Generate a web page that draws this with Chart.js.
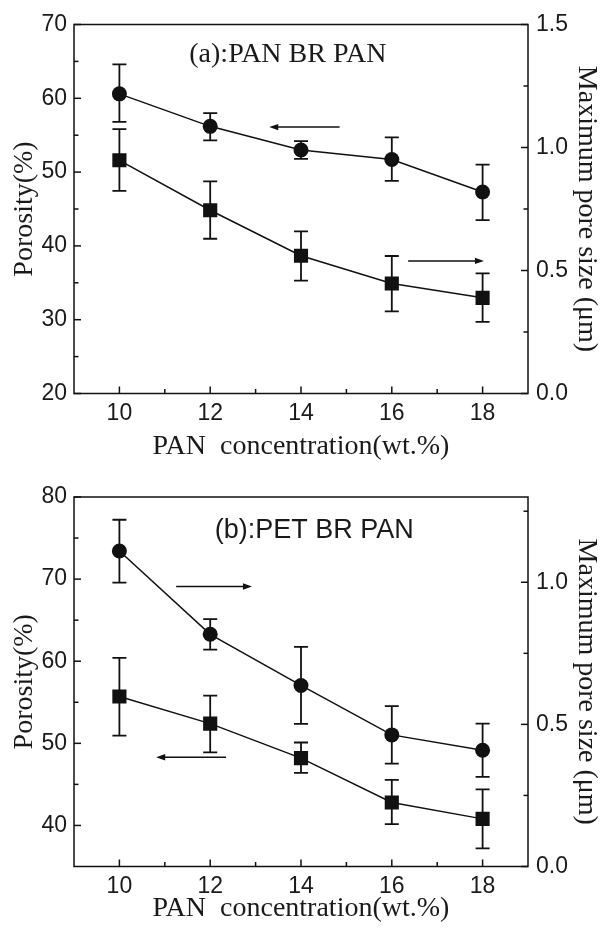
<!DOCTYPE html>
<html>
<head>
<meta charset="utf-8">
<script src="https://cdn.jsdelivr.net/npm/chart.js@4.4.1/dist/chart.umd.min.js"></script>
<style>
html, body { margin: 0; padding: 0; background: #fff; }
.panel { position: relative; width: 603px; height: 466px; }
</style>
</head>
<body>
<div class="panel"><canvas id="chartA"></canvas></div>
<div class="panel"><canvas id="chartB"></canvas></div>
<script>
// PAN concentration (wt.%)
const concentration = [10, 12, 14, 16, 18];

// (a) PAN BR PAN
const porosityA = [60.6, 56.2, 53.0, 51.7, 47.3];
const porosityALow = [56.8, 54.3, 51.8, 48.8, 43.5];
const porosityAHigh = [64.6, 58.0, 54.2, 54.7, 51.0];
const poreA = [0.948, 0.745, 0.560, 0.447, 0.389];
const poreALow = [0.824, 0.629, 0.459, 0.334, 0.291];
const poreAHigh = [1.075, 0.862, 0.659, 0.559, 0.488];

// (b) PET BR PAN
const porosityB = [55.7, 52.4, 48.2, 42.8, 40.8];
const porosityBLow = [50.95, 48.9, 46.4, 40.15, 37.2];
const porosityBHigh = [60.4, 55.8, 50.1, 45.55, 44.4];
const poreB = [1.110, 0.817, 0.637, 0.463, 0.409];
const poreBLow = [0.999, 0.763, 0.502, 0.362, 0.315];
const poreBHigh = [1.220, 0.870, 0.773, 0.564, 0.503];

// tick labels
const xTicks = [10, 12, 14, 16, 18];
const xMinor = [11, 13, 15, 17];
const porosityTicksA = [20, 30, 40, 50, 60, 70];
const porosityMinorA = [25, 35, 45, 55, 65];
const poreTicksA = [0, 0.5, 1.0, 1.5];
const poreMinorA = [0.25, 0.75, 1.25];
const porosityTicksB = [40, 50, 60, 70, 80];
const porosityMinorB = [45, 55, 65, 75];
const poreTicksB = [0, 0.5, 1.0];
const poreMinorB = [0.25, 0.75, 1.25];

const INK = '#111';
const serif = "'Liberation Serif', 'Times New Roman', serif";
const sans = "'Liberation Sans', Arial, sans-serif";

// frame with inward ticks
const framePlugin = {
  id: 'frame',
  afterDraw(chart, args, opts) {
    const {ctx, chartArea: a, scales} = chart;
    ctx.save();
    ctx.strokeStyle = INK;
    ctx.lineWidth = 1.5;
    ctx.strokeRect(a.left, a.top, a.right - a.left, a.bottom - a.top);
    const mark = (scale, values, len) => {
      values.forEach(v => {
        const p = scale.getPixelForValue(v);
        ctx.beginPath();
        if (scale.axis === 'x') {
          ctx.moveTo(p, a.bottom); ctx.lineTo(p, a.bottom - len);
        } else if (scale.position === 'left') {
          ctx.moveTo(a.left, p); ctx.lineTo(a.left + len, p);
        } else {
          ctx.moveTo(a.right, p); ctx.lineTo(a.right - len, p);
        }
        ctx.stroke();
      });
    };
    mark(scales.x, opts.xMajor, 7);
    mark(scales.x, opts.xMinor, 4.5);
    mark(scales.y, opts.yMajor, 7);
    mark(scales.y, opts.yMinor, 4.5);
    mark(scales.y1, opts.y1Major, 7);
    mark(scales.y1, opts.y1Minor, 4.5);
    ctx.restore();
  }
};

const errorBarPlugin = {
  id: 'errorBars',
  beforeDatasetsDraw(chart) {
    const {ctx} = chart;
    ctx.save();
    ctx.strokeStyle = INK;
    ctx.lineWidth = 1.8;
    chart.data.datasets.forEach((ds, i) => {
      const meta = chart.getDatasetMeta(i);
      const ys = chart.scales[ds.yAxisID];
      meta.data.forEach((pt, j) => {
        const top = ys.getPixelForValue(ds.errHigh[j]);
        const bot = ys.getPixelForValue(ds.errLow[j]);
        ctx.beginPath();
        ctx.moveTo(pt.x, top); ctx.lineTo(pt.x, bot);
        ctx.moveTo(pt.x - 7, top); ctx.lineTo(pt.x + 7, top);
        ctx.moveTo(pt.x - 7, bot); ctx.lineTo(pt.x + 7, bot);
        ctx.stroke();
      });
    });
    ctx.restore();
  }
};

const notesPlugin = {
  id: 'notes',
  afterDatasetsDraw(chart, args, opts) {
    const {ctx, scales} = chart;
    ctx.save();
    ctx.strokeStyle = INK;
    ctx.fillStyle = INK;
    ctx.lineWidth = 1.5;
    opts.arrows.forEach(ar => {
      const ys = scales[ar.axis];
      const y = ys.getPixelForValue(ar.at);
      const x1 = scales.x.getPixelForValue(ar.from);
      const x2 = scales.x.getPixelForValue(ar.to);
      const dir = Math.sign(x2 - x1);
      ctx.beginPath();
      ctx.moveTo(x1, y); ctx.lineTo(x2 - dir * 6, y);
      ctx.stroke();
      ctx.beginPath();
      ctx.moveTo(x2, y);
      ctx.lineTo(x2 - dir * 9, y - 3.2);
      ctx.lineTo(x2 - dir * 9, y + 3.2);
      ctx.closePath();
      ctx.fill();
    });
    const lb = opts.label;
    ctx.font = lb.font;
    ctx.textAlign = 'center';
    ctx.textBaseline = 'middle';
    ctx.fillStyle = '#1a1a1a';
    ctx.fillText(lb.text, scales.x.getPixelForValue(lb.x), scales.y.getPixelForValue(lb.y));
    ctx.restore();
  }
};

function points(ys) {
  return concentration.map((x, i) => ({x: x, y: ys[i]}));
}

function series(ys, low, high, axis, style, size) {
  return {
    data: points(ys),
    errLow: low,
    errHigh: high,
    yAxisID: axis,
    showLine: true,
    borderColor: INK,
    borderWidth: 1.5,
    backgroundColor: INK,
    pointStyle: style,
    pointRadius: size,
    pointHoverRadius: size,
    pointBorderWidth: 0
  };
}

function makeChart(id, c) {
  const tickFont = {family: sans, size: 23};
  const titleFont = {family: serif, size: 28};
  return new Chart(document.getElementById(id), {
    type: 'scatter',
    data: {datasets: c.datasets},
    plugins: [errorBarPlugin, notesPlugin, framePlugin],
    options: {
      responsive: true,
      maintainAspectRatio: false,
      animation: false,
      layout: {padding: {top: c.top, right: 0, bottom: 0, left: 0}},
      plugins: {
        legend: {display: false},
        tooltip: {enabled: false},
        frame: {
          xMajor: xTicks, xMinor: xMinor,
          yMajor: c.yTicks, yMinor: c.yMinor,
          y1Major: c.y1Ticks, y1Minor: c.y1Minor
        },
        notes: {arrows: c.arrows, label: c.label}
      },
      scales: {
        x: {
          type: 'linear', min: 9, max: 19,
          afterBuildTicks: s => { s.ticks = xTicks.map(v => ({value: v})); },
          afterFit: s => { s.height = c.xHeight; },
          grid: {display: false, drawTicks: false},
          border: {display: false},
          ticks: {color: '#1a1a1a', font: tickFont, padding: 6},
          title: {display: true, text: 'PAN  concentration(wt.%)', color: '#1a1a1a',
                  font: titleFont, padding: {top: c.xTitlePad, bottom: c.xTitlePad}}
        },
        y: {
          position: 'left', min: c.yMin, max: c.yMax,
          afterBuildTicks: s => { s.ticks = c.yTicks.map(v => ({value: v})); },
          afterFit: s => { s.width = 74; },
          grid: {display: false, drawTicks: false},
          border: {display: false},
          ticks: {color: '#1a1a1a', font: tickFont, padding: 7},
          title: {display: true, text: 'Porosity(%)', color: '#1a1a1a',
                  font: titleFont, padding: {top: 8, bottom: 0}}
        },
        y1: {
          position: 'right', min: 0, max: c.y1Max,
          afterBuildTicks: s => { s.ticks = c.y1Ticks.map(v => ({value: v})); },
          afterFit: s => { s.width = 75; },
          grid: {display: false, drawTicks: false},
          border: {display: false},
          ticks: {color: '#1a1a1a', font: tickFont, padding: 8,
                  callback: v => Number(v).toFixed(1)},
          title: {display: true, text: 'Maximum pore size (\u03bcm)', color: '#1a1a1a',
                  font: titleFont, padding: {top: 0, bottom: 0}}
        }
      }
    }
  });
}

makeChart('chartA', {
  top: 24.5, xHeight: 72.5, xTitlePad: 3,
  yMin: 20, yMax: 70, yTicks: porosityTicksA, yMinor: porosityMinorA,
  y1Max: 1.5, y1Ticks: poreTicksA, y1Minor: poreMinorA,
  datasets: [
    series(porosityA, porosityALow, porosityAHigh, 'y', 'circle', 7.5),
    series(poreA, poreALow, poreAHigh, 'y1', 'rect', 10)
  ],
  arrows: [
    {from: 14.85, to: 13.3, at: 56.1, axis: 'y'},
    {from: 16.36, to: 18.03, at: 0.539, axis: 'y1'}
  ],
  label: {text: '(a):PAN BR PAN', x: 13.71, y: 65.9, font: "28px " + serif}
});

makeChart('chartB', {
  top: 31, xHeight: 65.5, xTitlePad: 7,
  yMin: 35, yMax: 80, yTicks: porosityTicksB, yMinor: porosityMinorB,
  y1Max: 1.3, y1Ticks: poreTicksB, y1Minor: poreMinorB,
  datasets: [
    series(porosityB, porosityBLow, porosityBHigh, 'y', 'rect', 10),
    series(poreB, poreBLow, poreBHigh, 'y1', 'circle', 7.5)
  ],
  arrows: [
    {from: 11.25, to: 12.92, at: 0.985, axis: 'y1'},
    {from: 12.35, to: 10.81, at: 48.3, axis: 'y'}
  ],
  label: {text: '(b):PET BR PAN', x: 14.29, y: 75.9, font: "27px " + sans}
});
</script>
</body>
</html>
